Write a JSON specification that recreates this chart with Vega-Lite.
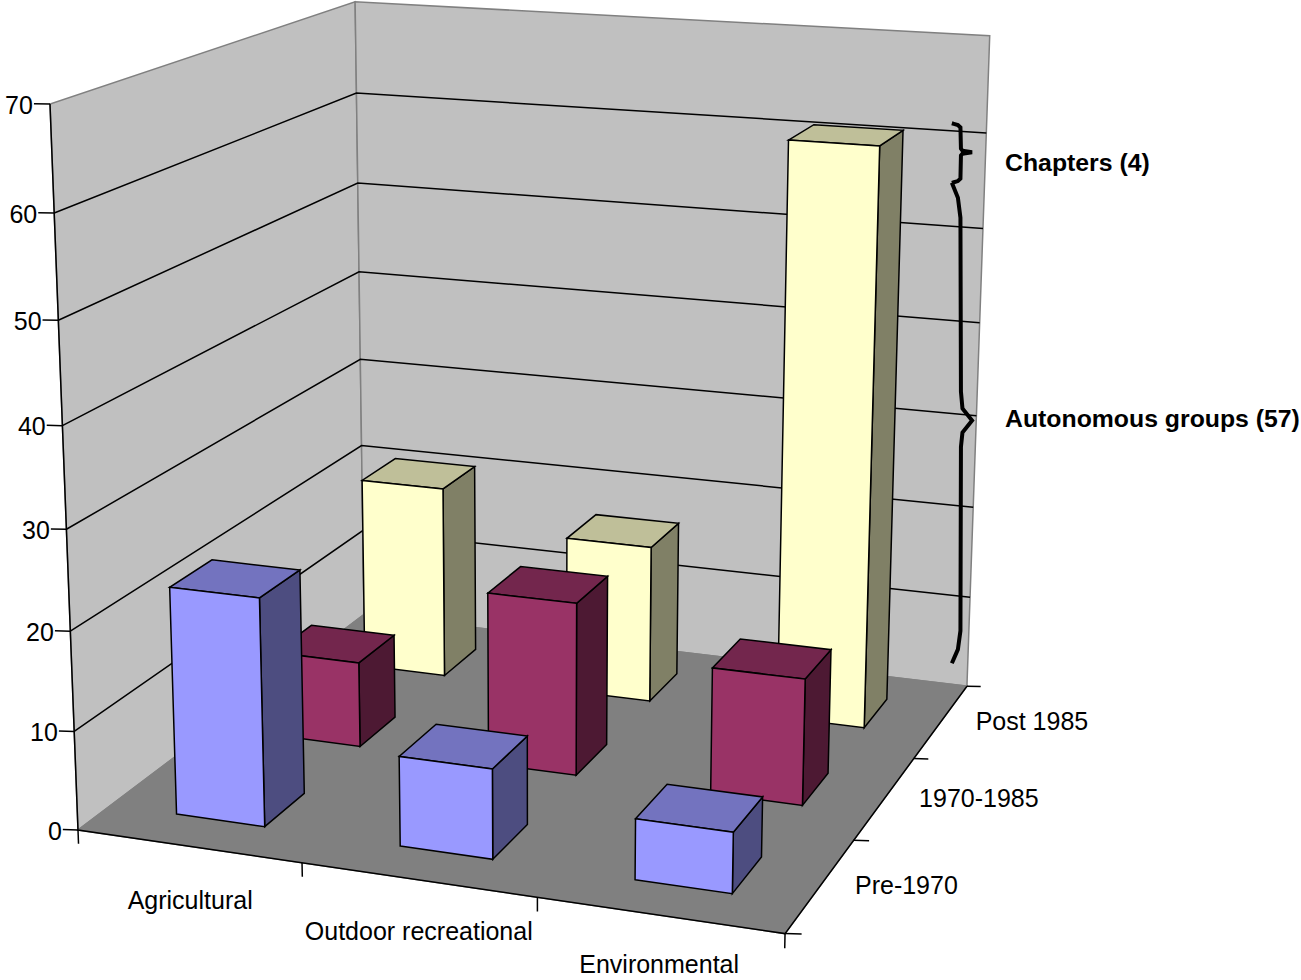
{"$schema":"https://vega.github.io/schema/vega-lite/v6.json","width":1301,"height":980,"padding":0,"autosize":{"type":"none"},"background":"white","config":{"view":{"stroke":null},"text":{"font":"Liberation Sans"}},"datasets":{"panes":[{"pane":"side wall"},{"pane":"back wall"},{"pane":"floor"}],"ticks":[{"axis":"grid","at":10},{"axis":"grid","at":20},{"axis":"grid","at":30},{"axis":"grid","at":40},{"axis":"grid","at":50},{"axis":"grid","at":60},{"axis":"value","at":0},{"axis":"value","at":10},{"axis":"value","at":20},{"axis":"value","at":30},{"axis":"value","at":40},{"axis":"value","at":50},{"axis":"value","at":60},{"axis":"value","at":70},{"axis":"category","at":0},{"axis":"category","at":1},{"axis":"category","at":2},{"axis":"category","at":3},{"axis":"period","at":0},{"axis":"period","at":1},{"axis":"period","at":2},{"axis":"period","at":3},{"axis":"edge","at":0}],"bars":[{"category":"Agricultural","period":"Post 1985","value":21},{"category":"Outdoor recreational","period":"Post 1985","value":17},{"category":"Environmental","period":"Post 1985","value":61},{"category":"Agricultural","period":"1970-1985","value":9},{"category":"Outdoor recreational","period":"1970-1985","value":18},{"category":"Environmental","period":"1970-1985","value":13},{"category":"Agricultural","period":"Pre-1970","value":23},{"category":"Outdoor recreational","period":"Pre-1970","value":9},{"category":"Environmental","period":"Pre-1970","value":6}],"categories":[{"category":"Agricultural","i":0},{"category":"Outdoor recreational","i":1},{"category":"Environmental","i":2}],"periods":[{"period":"Pre-1970","j":0},{"period":"1970-1985","j":1},{"period":"Post 1985","j":2}],"annotations":[{"label":"Autonomous groups (57)","from":2.6,"to":54.8,"labelAt":29.6},{"label":"Chapters (4)","from":54.8,"to":61,"labelAt":56.9}]},"layer":[{"data":{"name":"panes"},"transform":[{"calculate":"datum.pane==='floor'?[[0,0,0,0],[1,0,0,1],[1,1,0,2],[0,1,0,3]]:datum.pane==='back wall'?[[0,1,0,0],[1,1,0,1],[1,1,1,2],[0,1,1,3]]:[[0,0,0,0],[0,1,0,1],[0,1,1,2],[0,0,1,3]]","as":"c"},{"flatten":["c"]},{"calculate":"datum.c[0]","as":"u"},{"calculate":"datum.c[1]","as":"v"},{"calculate":"datum.c[2]","as":"w"},{"calculate":"datum.c[3]","as":"k"},{"calculate":"(78+650.2*datum.u+356.8*datum.v-30.85*datum.w)/(1-0.0724*datum.u+0.1945*datum.v-0.057*datum.w)","as":"X"},{"calculate":"(830+36*datum.u-96*datum.v-731.9*datum.w)/(1-0.0724*datum.u+0.1945*datum.v-0.057*datum.w)","as":"Y"}],"mark":{"type":"line","interpolate":"linear-closed","stroke":"#808080","strokeWidth":1.5},"encoding":{"x":{"field":"X","type":"quantitative","scale":{"domain":[0,1301],"nice":false,"zero":false},"axis":null},"y":{"field":"Y","type":"quantitative","scale":{"domain":[980,0],"nice":false,"zero":false},"axis":null},"fill":{"field":"pane","type":"nominal","legend":null,"scale":{"domain":["side wall","back wall","floor"],"range":["#C0C0C0","#C0C0C0","#808080"]}},"detail":{"field":"pane"},"order":{"field":"k","type":"quantitative"}}},{"data":{"name":"ticks"},"transform":[{"calculate":"datum.axis+datum.at","as":"id"},{"calculate":"datum.at/70","as":"h"},{"calculate":"datum.at/3","as":"s"},{"calculate":"datum.axis==='grid'?[[0,0,datum.h,0],[0,1,datum.h,1],[1,1,datum.h,2]]:datum.axis==='value'?[[-0.02,-0.006,datum.h,0],[0,0,datum.h,1]]:datum.axis==='category'?[[datum.s,0,0,0],[datum.s,0,-0.02,1]]:datum.axis==='period'?[[1,datum.s,0,0],[1.02,datum.s+0.006,0,1]]:[[0,0,1,0],[0,0,0,1],[1,0,0,2],[1,1,0,3]]","as":"c"},{"flatten":["c"]},{"calculate":"datum.c[0]","as":"u"},{"calculate":"datum.c[1]","as":"v"},{"calculate":"datum.c[2]","as":"w"},{"calculate":"datum.c[3]","as":"k"},{"calculate":"(78+650.2*datum.u+356.8*datum.v-30.85*datum.w)/(1-0.0724*datum.u+0.1945*datum.v-0.057*datum.w)","as":"X"},{"calculate":"(830+36*datum.u-96*datum.v-731.9*datum.w)/(1-0.0724*datum.u+0.1945*datum.v-0.057*datum.w)","as":"Y"}],"mark":{"type":"line","stroke":"black","strokeWidth":1.5},"encoding":{"x":{"field":"X","type":"quantitative","axis":null},"y":{"field":"Y","type":"quantitative","axis":null},"detail":{"field":"id"},"order":{"field":"k","type":"quantitative"}}},{"data":{"name":"bars"},"transform":[{"calculate":"indexof(['Agricultural','Outdoor recreational','Environmental'],datum.category)","as":"i"},{"calculate":"indexof(['Pre-1970','1970-1985','Post 1985'],datum.period)","as":"j"},{"calculate":"(datum.i+0.3)/3","as":"u0"},{"calculate":"(datum.i+0.7)/3","as":"u1"},{"calculate":"(datum.j+0.3)/3","as":"v0"},{"calculate":"(datum.j+0.7)/3","as":"v1"},{"calculate":"datum.value/70","as":"t"},{"calculate":"['side','top','front']","as":"face"},{"flatten":["face"]},{"calculate":"datum.face==='front'?[[datum.u0,datum.v0,0,0],[datum.u1,datum.v0,0,1],[datum.u1,datum.v0,datum.t,2],[datum.u0,datum.v0,datum.t,3]]:datum.face==='side'?[[datum.u1,datum.v0,0,0],[datum.u1,datum.v1,0,1],[datum.u1,datum.v1,datum.t,2],[datum.u1,datum.v0,datum.t,3]]:[[datum.u0,datum.v0,datum.t,0],[datum.u1,datum.v0,datum.t,1],[datum.u1,datum.v1,datum.t,2],[datum.u0,datum.v1,datum.t,3]]","as":"c"},{"flatten":["c"]},{"calculate":"datum.c[0]","as":"u"},{"calculate":"datum.c[1]","as":"v"},{"calculate":"datum.c[2]","as":"w"},{"calculate":"datum.c[3]","as":"k"},{"calculate":"datum.category+datum.period+datum.face","as":"id"},{"calculate":"datum.period+'|'+datum.face","as":"paint"},{"calculate":"(78+650.2*datum.u+356.8*datum.v-30.85*datum.w)/(1-0.0724*datum.u+0.1945*datum.v-0.057*datum.w)","as":"X"},{"calculate":"(830+36*datum.u-96*datum.v-731.9*datum.w)/(1-0.0724*datum.u+0.1945*datum.v-0.057*datum.w)","as":"Y"}],"mark":{"type":"line","interpolate":"linear-closed","stroke":"black","strokeWidth":1.5},"encoding":{"x":{"field":"X","type":"quantitative","axis":null},"y":{"field":"Y","type":"quantitative","axis":null},"fill":{"field":"paint","type":"nominal","legend":null,"scale":{"domain":["Pre-1970|front","Pre-1970|top","Pre-1970|side","1970-1985|front","1970-1985|top","1970-1985|side","Post 1985|front","Post 1985|top","Post 1985|side"],"range":["#9999FF","#7373BF","#4D4D80","#993366","#73264D","#4D1933","#FFFFCC","#BFBF99","#808066"]}},"detail":{"field":"id"},"order":{"field":"k","type":"quantitative"}}},{"data":{"name":"annotations"},"transform":[{"calculate":"[[0,-9],[0.01,-7],[0.03,-3],[0.07,-0.5],[0.46,0],[0.49,1.5],[0.515,11],[0.54,1.5],[0.575,0],[0.93,-0.5],[0.97,-3],[0.99,-7],[1,-9]]","as":"p"},{"flatten":["p"]},{"calculate":"(datum.from+(datum.to-datum.from)*datum.p[0])/70","as":"w"},{"calculate":"0.974+datum.p[1]/650","as":"us"},{"calculate":"(78+650.2*datum.us+356.8-15.4)/(1-0.0724*datum.us+0.1945-0.0285)","as":"X"},{"calculate":"(770-731.9*datum.w)/(1.1221-0.057*datum.w)","as":"Y"},{"calculate":"datum.p[0]","as":"k"}],"mark":{"type":"line","stroke":"black","strokeWidth":4},"encoding":{"x":{"field":"X","type":"quantitative","axis":null},"y":{"field":"Y","type":"quantitative","axis":null},"detail":{"field":"label"},"order":{"field":"k","type":"quantitative"}}},{"data":{"name":"annotations"},"transform":[{"calculate":"datum.labelAt/70","as":"w"},{"calculate":"(78+650.2+356.8-15.4)/(1-0.0724+0.1945-0.0285)","as":"X"},{"calculate":"(770-731.9*datum.w)/(1.1221-0.057*datum.w)","as":"Y"}],"mark":{"type":"text","align":"left","baseline":"middle","dx":27,"dy":1,"fontSize":24.8,"fontWeight":"bold","font":"Liberation Sans","fill":"black"},"encoding":{"x":{"field":"X","type":"quantitative","axis":null},"y":{"field":"Y","type":"quantitative","axis":null},"text":{"field":"label"}}},{"data":{"name":"ticks"},"transform":[{"filter":"datum.axis==='value'"},{"calculate":"datum.at/70","as":"w"},{"calculate":"(78-650.2*0.02-356.8*0.006-30.85*datum.w)/(1+0.0724*0.02-0.1945*0.006-0.057*datum.w)","as":"X"},{"calculate":"(830-36*0.02+96*0.006-731.9*datum.w)/(1+0.0724*0.02-0.1945*0.006-0.057*datum.w)","as":"Y"}],"mark":{"type":"text","align":"right","baseline":"middle","dx":-1,"dy":2,"fontSize":25,"font":"Liberation Sans","fill":"black"},"encoding":{"x":{"field":"X","type":"quantitative","axis":null},"y":{"field":"Y","type":"quantitative","axis":null},"text":{"field":"at","type":"quantitative"}}},{"data":{"name":"categories"},"transform":[{"calculate":"(datum.i+0.5)/3","as":"u"},{"calculate":"0.076-0.0045*datum.i","as":"drop"},{"calculate":"(78+650.2*datum.u+30.85*datum.drop)/(1-0.0724*datum.u+0.057*datum.drop)","as":"X"},{"calculate":"(830+36*datum.u+731.9*datum.drop)/(1-0.0724*datum.u+0.057*datum.drop)","as":"Y"}],"mark":{"type":"text","align":"center","baseline":"middle","dy":2,"fontSize":25,"font":"Liberation Sans","fill":"black"},"encoding":{"x":{"field":"X","type":"quantitative","axis":null},"y":{"field":"Y","type":"quantitative","axis":null},"text":{"field":"category"}}},{"data":{"name":"periods"},"transform":[{"calculate":"(datum.j+0.5)/3","as":"v"},{"calculate":"(78+650.2+356.8*datum.v)/(1-0.0724+0.1945*datum.v)","as":"X"},{"calculate":"(830+36-96*datum.v)/(1-0.0724+0.1945*datum.v)","as":"Y"}],"mark":{"type":"text","align":"left","baseline":"middle","dx":34.5,"dy":0.5,"fontSize":25,"font":"Liberation Sans","fill":"black"},"encoding":{"x":{"field":"X","type":"quantitative","axis":null},"y":{"field":"Y","type":"quantitative","axis":null},"text":{"field":"period"}}}],"resolve":{"scale":{"fill":"independent"}}}
